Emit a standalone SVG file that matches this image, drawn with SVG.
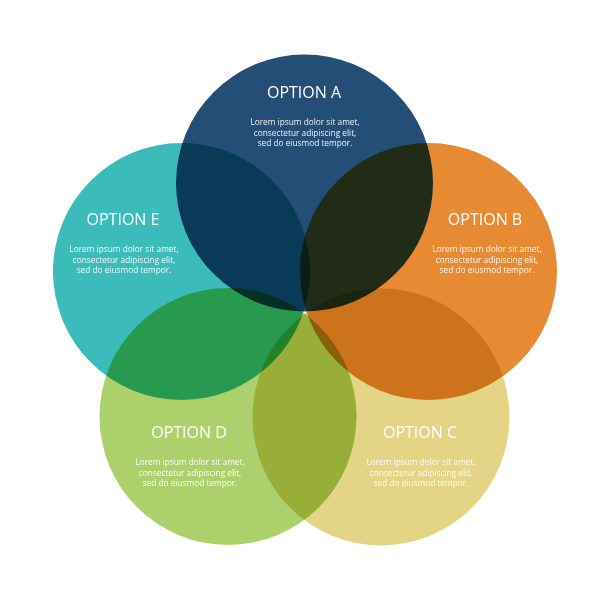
<svg xmlns="http://www.w3.org/2000/svg" width="600" height="600" viewBox="0 0 600 600">
<style>
.c{mix-blend-mode:multiply}
.t{font-family:"Open Sans","Liberation Sans",sans-serif;font-size:16px;fill:#fff;text-anchor:middle}
.b{font-family:"Open Sans","Liberation Sans",sans-serif;font-size:8.3px;fill:#fff;fill-opacity:0.92;text-anchor:middle}
</style>
<rect width="600" height="600" fill="#fff"/>
<g style="isolation:isolate">
<g id="optionE"><circle class="c" cx="181.5" cy="271.5" r="128.5" fill="#3bbcbb"/></g>
<g id="optionB"><circle class="c" cx="428.5" cy="271.5" r="128.5" fill="#e68a34"/></g>
<g id="optionD"><circle class="c" cx="228" cy="416.5" r="128.5" fill="#acd16c"/></g>
<g id="optionC"><circle class="c" cx="381" cy="417" r="128.5" fill="#e3d585"/></g>
<g id="optionA"><circle class="c" cx="304.5" cy="183" r="128.5" fill="#244e76"/></g>
</g>
<g id="labelA">
<text class="t" x="304" y="98">OPTION A</text>
<text class="b" x="305" y="125">Lorem ipsum dolor sit amet,</text>
<text class="b" x="305" y="135.5">consectetur adipiscing elit,</text>
<text class="b" x="305" y="146">sed do eiusmod tempor.</text>
</g>
<g id="labelE">
<text class="t" x="123" y="225">OPTION E</text>
<text class="b" x="124" y="252">Lorem ipsum dolor sit amet,</text>
<text class="b" x="124" y="262.5">consectetur adipiscing elit,</text>
<text class="b" x="124" y="273">sed do eiusmod tempor.</text>
</g>
<g id="labelB">
<text class="t" x="485" y="225">OPTION B</text>
<text class="b" x="487" y="252">Lorem ipsum dolor sit amet,</text>
<text class="b" x="487" y="262.5">consectetur adipiscing elit,</text>
<text class="b" x="487" y="273">sed do eiusmod tempor.</text>
</g>
<g id="labelD">
<text class="t" x="189" y="438">OPTION D</text>
<text class="b" x="190" y="465">Lorem ipsum dolor sit amet,</text>
<text class="b" x="190" y="475.5">consectetur adipiscing elit,</text>
<text class="b" x="190" y="486">sed do eiusmod tempor.</text>
</g>
<g id="labelC">
<text class="t" x="420" y="438">OPTION C</text>
<text class="b" x="421" y="465">Lorem ipsum dolor sit amet,</text>
<text class="b" x="421" y="475.5">consectetur adipiscing elit,</text>
<text class="b" x="421" y="486">sed do eiusmod tempor.</text>
</g>
</svg>
